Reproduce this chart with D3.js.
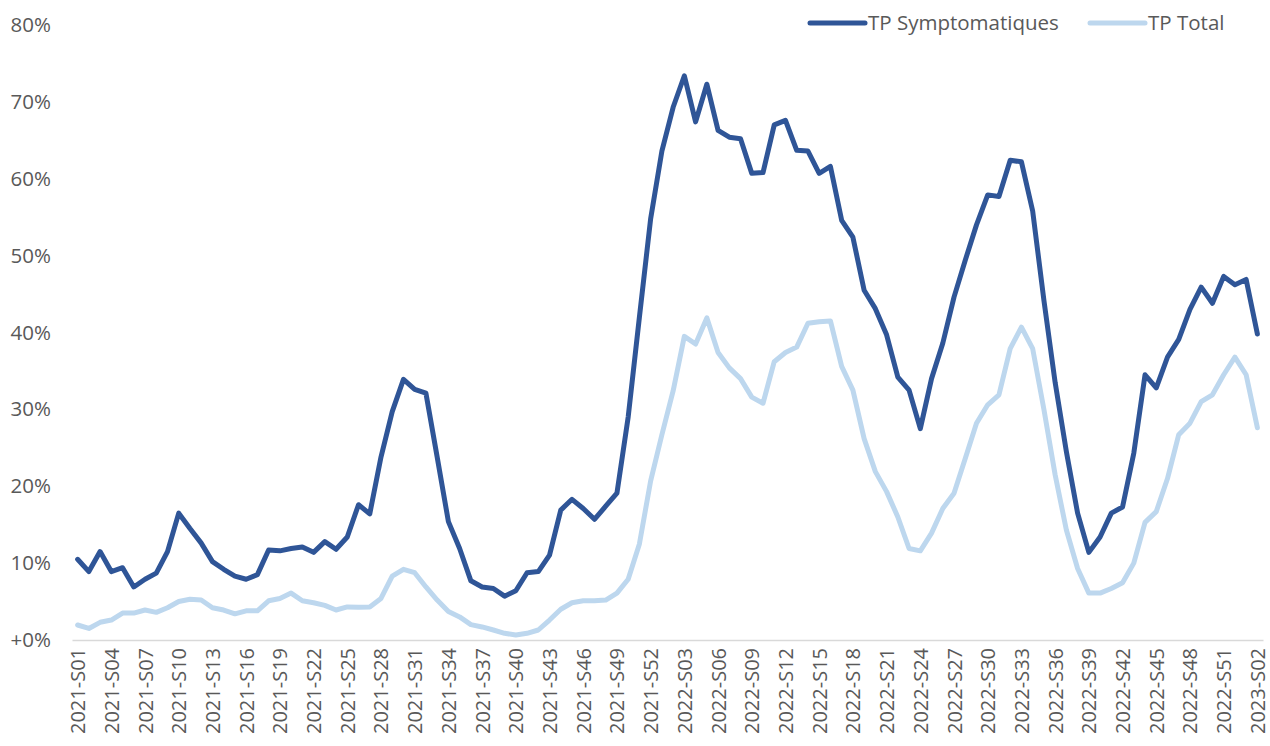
<!DOCTYPE html>
<html>
<head>
<meta charset="utf-8">
<script src="https://cdn.jsdelivr.net/npm/d3@7"></script>
<style>
  body { margin: 0; background: #fff; }
  text { font-family: "Open Sans", "DejaVu Sans", sans-serif; fill: #595959; }
</style>
</head>
<body>
<script>
// semaines 2021-S01 .. 2023-S02
var weeks = [];
for (let y of [2021, 2022]) {
    for (let w = 1; w <= 52; w++) weeks.push(y + "-S" + String(w).padStart(2, "0"));
}
weeks.push("2023-S01", "2023-S02");

// taux de positivité, en %
var tpSympto = [
    10.5, 8.9, 11.5, 8.9, 9.4, 6.9, 7.9, 8.7, 11.5, 16.5,
    14.5, 12.6, 10.2, 9.2, 8.3, 7.9, 8.5, 11.7, 11.6, 11.9,
    12.1, 11.4, 12.8, 11.8, 13.4, 17.6, 16.4, 23.8, 29.7, 33.9,
    32.6, 32.1, 23.8, 15.4, 11.9, 7.7, 6.9, 6.7, 5.7, 6.4,
    8.75, 8.9, 11.05, 16.9, 18.3, 17.1, 15.7, 17.4, 19.1, 29.0,
    42.0, 54.8, 63.6, 69.3, 73.4, 67.4, 72.3, 66.3, 65.4, 65.2,
    60.7, 60.8, 67.0, 67.6, 63.7, 63.6, 60.7, 61.6, 54.6, 52.4,
    45.5, 43.1, 39.7, 34.2, 32.5, 27.5, 34.0, 38.6, 44.6, 49.4,
    54.0, 57.9, 57.7, 62.4, 62.2, 55.8, 44.2, 33.5, 24.5, 16.5,
    11.4, 13.4, 16.5, 17.3, 24.3, 34.5, 32.8, 36.8, 39.1, 43.0,
    45.9, 43.8, 47.3, 46.2, 46.9, 39.8
];
var tpTotal = [
    1.95, 1.5, 2.3, 2.6, 3.5, 3.5, 3.9, 3.6, 4.2, 5.0,
    5.3, 5.2, 4.2, 3.9, 3.4, 3.8, 3.8, 5.1, 5.4, 6.1,
    5.1, 4.85, 4.5, 3.9, 4.3, 4.25, 4.3, 5.4, 8.3, 9.2,
    8.75, 6.9, 5.2, 3.7, 3.0, 2.0, 1.7, 1.3, 0.87, 0.65,
    0.87, 1.3, 2.6, 4.0, 4.85, 5.1, 5.1, 5.2, 6.1, 7.9,
    12.5, 20.7, 26.7, 32.4, 39.5, 38.5, 41.9, 37.4, 35.4, 34.0,
    31.6, 30.8, 36.2, 37.4, 38.1, 41.2, 41.4, 41.5, 35.6, 32.5,
    26.2, 21.9, 19.3, 16.0, 11.9, 11.6, 13.9, 17.1, 19.1, 23.6,
    28.2, 30.6, 31.9, 37.9, 40.7, 37.9, 30.0, 21.5, 14.3, 9.3,
    6.1, 6.1, 6.7, 7.45, 10.0, 15.3, 16.7, 21.0, 26.7, 28.2,
    31.0, 31.9, 34.5, 36.8, 34.5, 27.6
];
var yTicks = [0, 10, 20, 30, 40, 50, 60, 70, 80];
var seriesNames = ["TP Symptomatiques", "TP Total"];
var seriesColors = ["#2f5597", "#bdd7ee"];

const W = 1270, H = 746;
const svg = d3.select("body").append("svg")
    .attr("width", W)
    .attr("height", H);

const x = d3.scalePoint().domain(weeks).range([72, 1263]).padding(0.5);
const y = d3.scaleLinear().domain([0, 80]).range([640, 25]);

// axe y (pas de grille)
const yAxis = svg.append("g")
    .attr("transform", "translate(51,0)")
    .call(d3.axisLeft(y).tickValues(yTicks).tickSize(0).tickPadding(0)
        .tickFormat(d => d === 0 ? "+0%" : d + "%"));
yAxis.select(".domain").remove();
yAxis.selectAll("text").style("font-size", "20.5px").style("fill", "#595959");

// axe x
const xAxis = svg.append("g")
    .attr("transform", "translate(0,640)")
    .call(d3.axisBottom(x).tickValues(weeks.filter((d, i) => i % 3 === 0)).tickSize(0));
xAxis.select(".domain").attr("stroke", "#d9d9d9").attr("stroke-width", 1.5);
xAxis.selectAll("text")
    .attr("transform", "rotate(-90)")
    .attr("x", -8)
    .attr("y", 0)
    .attr("dy", "0.35em")
    .style("text-anchor", "end")
    .style("font-size", "20px")
    .style("fill", "#595959");

// courbes
const line = d3.line()
    .x((d, i) => x(weeks[i]))
    .y(d => y(d));

const allSeries = [tpSympto, tpTotal];
// le total est dessiné en dessous
for (let k of [1, 0]) {
    svg.append("path")
        .datum(allSeries[k])
        .attr("fill", "none")
        .attr("stroke", seriesColors[k])
        .attr("stroke-width", 5)
        .attr("stroke-linejoin", "round")
        .attr("stroke-linecap", "round")
        .attr("d", line);
}

// légende
const legendX = [810, 1090];
const legend = svg.append("g");
seriesNames.forEach((name, k) => {
    legend.append("line")
        .attr("x1", legendX[k]).attr("x2", legendX[k] + 55)
        .attr("y1", 23).attr("y2", 23)
        .attr("stroke", seriesColors[k])
        .attr("stroke-width", 5)
        .attr("stroke-linecap", "round");
    legend.append("text")
        .attr("x", legendX[k] + 58)
        .attr("y", 30)
        .style("font-size", "20.5px")
        .text(name);
});
</script>
</body>
</html>
